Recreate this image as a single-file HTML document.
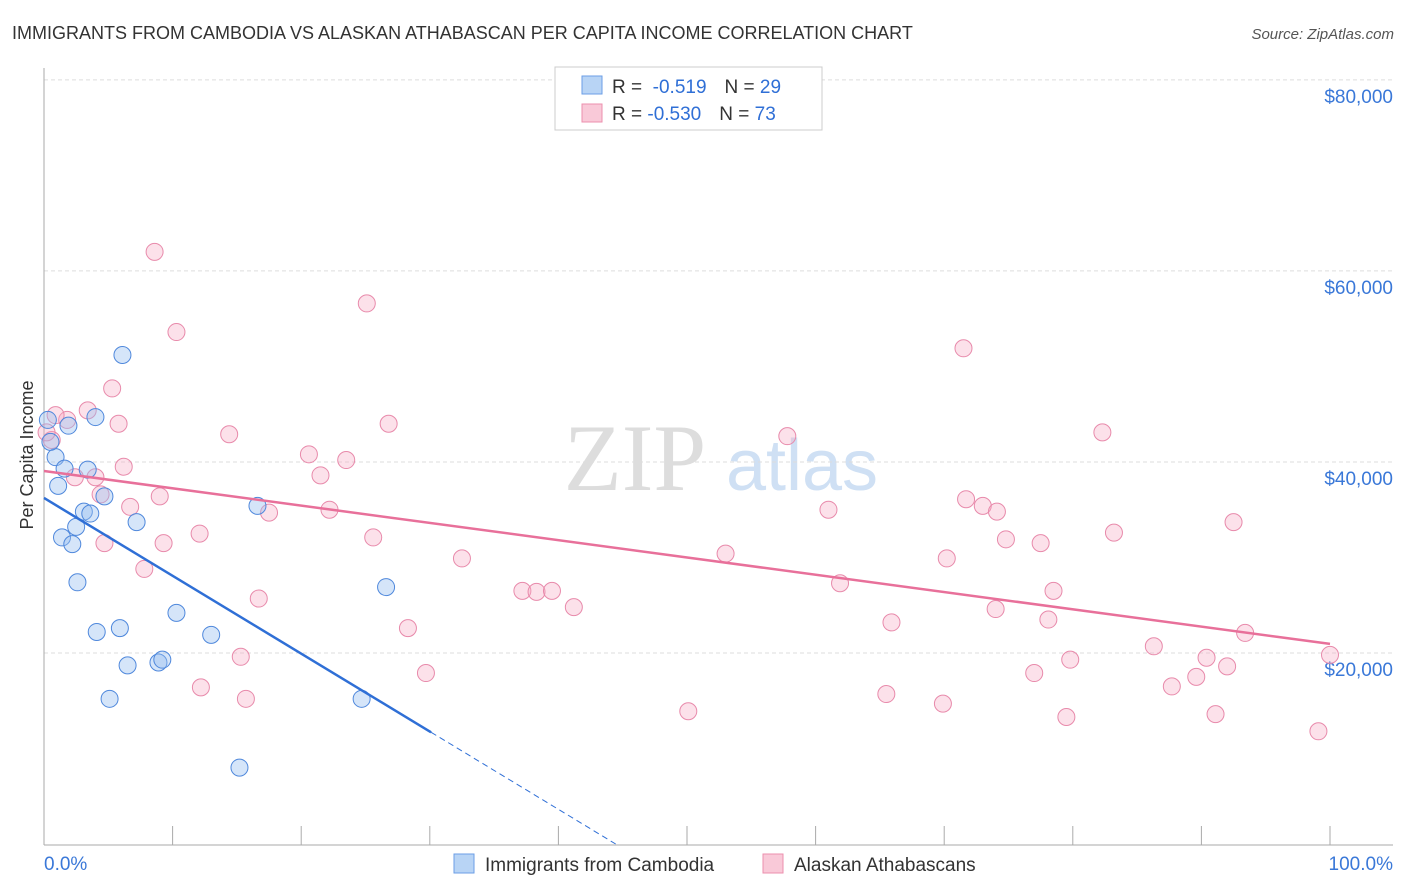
<!DOCTYPE html>
<html><head><meta charset="utf-8"><style>
body{margin:0;background:#fff;font-family:"Liberation Sans",sans-serif;}
svg{display:block}
</style></head><body>
<svg id="c" width="1406" height="892" xmlns="http://www.w3.org/2000/svg">
<text x="12" y="39" font-size="18" fill="#333">IMMIGRANTS FROM CAMBODIA VS ALASKAN ATHABASCAN PER CAPITA INCOME CORRELATION CHART</text>
<text x="1394" y="39" font-size="15" fill="#555" font-style="italic" text-anchor="end">Source: ZipAtlas.com</text>
<text x="33" y="455" font-size="18" fill="#333" text-anchor="middle" transform="rotate(-90 33 455)">Per Capita Income</text>
<g><text x="635" y="490" font-size="95" fill="#ddd" font-family="Liberation Serif,serif" text-anchor="middle">ZIP</text><text x="802" y="490" font-size="72" fill="#cfe0f4" text-anchor="middle">atlas</text></g>
<g id="grid"></g><g id="axes"></g><g id="pts"></g><g id="lines"></g>
<g>
<rect x="555" y="67" width="267" height="63" fill="#fff" stroke="#ccc"/>
<rect x="582" y="76" width="20" height="18" fill="#b8d4f5" stroke="#6b9ee6"/>
<rect x="582" y="104" width="20" height="18" fill="#f9c9d8" stroke="#ec8fae"/>
<text x="612" y="93" font-size="19" fill="#333">R = <tspan fill="#2f6fd6">&#160;-0.519</tspan><tspan dx="18">N = </tspan><tspan fill="#2f6fd6">29</tspan></text>
<text x="612" y="120" font-size="19" fill="#333">R = <tspan fill="#2f6fd6">-0.530</tspan><tspan dx="18">N = </tspan><tspan fill="#2f6fd6">73</tspan></text>
</g>
<g>
<rect x="454" y="854" width="20" height="19" fill="#b8d4f5" stroke="#6b9ee6"/>
<text x="485" y="871" font-size="19" fill="#333">Immigrants from Cambodia</text>
<rect x="763" y="854" width="20" height="19" fill="#f9c9d8" stroke="#ec8fae"/>
<text x="794" y="871" font-size="19" fill="#333">Alaskan Athabascans</text>
</g>
</svg>
<script>
const yTicks=[20000,40000,60000,80000];
const yTickLabels=["$20,000","$40,000","$60,000","$80,000"];
const xTickLabels=["0.0%","100.0%"];
const blueX=[0.3,0.9,1.9,4.0,6.1,1.1,1.6,3.4,4.7,3.1,3.6,7.2,1.4,2.5,2.2,2.6,16.6,10.3,4.1,5.9,13.0,6.5,8.9,9.2,5.1,24.7,26.6,15.2,0.5];
const blueY=[44400,40500,43800,44700,51200,37500,39300,39200,36400,34800,34600,33700,32100,33200,31400,27400,35400,24200,22200,22600,21900,18700,19000,19300,15200,15200,26900,8000,42100];
const pinkX=[8.6,25.1,10.3,71.5,5.3,3.4,1.8,5.8,26.8,14.4,82.3,57.8,0.6,0.2,20.6,23.5,6.2,2.4,4.0,21.5,4.4,9.0,71.7,73.0,74.1,17.5,6.7,22.2,61.0,92.5,12.1,25.6,83.2,74.8,77.5,4.7,9.3,53.0,32.5,70.2,7.8,61.9,78.5,37.2,38.3,39.5,16.7,41.2,74.0,78.1,65.9,28.3,93.4,86.3,15.3,79.8,90.4,100,92.0,29.7,77.0,89.6,12.2,87.7,65.5,15.7,69.9,50.1,91.1,79.5,99.1,0.9];
const pinkY=[62000,56600,53600,51900,47700,45400,44400,44000,44000,42900,43100,42700,42300,43100,40800,40200,39500,38400,38400,38600,36600,36400,36100,35400,34800,34700,35300,35000,35000,33700,32500,32100,32600,31900,31500,31500,31500,30400,29900,29900,28800,27300,26500,26500,26400,26500,25700,24800,24600,23500,23200,22600,22100,20700,19600,19300,19500,19800,18600,17900,17900,17500,16400,16500,15700,15200,14700,13900,13600,13300,11800,44900];
const blueTrend=[36230,-815]; // intercept, slope per pct
const pinkTrend=[39050,-181];
const blueSolidEnd=[30.1];
const NS="http://www.w3.org/2000/svg";
const X=p=>44+p*12.86, Y=v=>844-v/104.7;
function mk(t,a,p){const e=document.createElementNS(NS,t);for(const k in a)e.setAttribute(k,a[k]);document.getElementById(p).appendChild(e);return e;}
yTicks.forEach((v,i)=>{
 const l=mk('line',{x1:44,x2:1393,y1:Y(v),y2:Y(v),stroke:'#ddd','stroke-dasharray':'4,3'},'grid');
 
 
 const t=mk('text',{x:1393,y:Y(v)+23,'font-size':19,fill:'#3a78d8','text-anchor':'end'},'grid');t.textContent=yTickLabels[i];
 
 
});
let a=mk('line',{x1:44,x2:44,y1:68,y2:845,stroke:'#aaa'},'axes');


a=mk('line',{x1:44,x2:1393,y1:845,y2:845,stroke:'#aaa'},'axes');


for(let i=0;i<=10;i++){const t=mk('line',{x1:X(i*10),x2:X(i*10),y1:826,y2:845,stroke:'#aaa'},'axes');
 
 }
[[0,'start',44],[1,'end',1393]].forEach(([i,an,x])=>{const t=mk('text',{x:x,y:870,'font-size':19,fill:'#3a78d8','text-anchor':an},'axes');t.textContent=xTickLabels[i];
 
 });
pinkX.forEach((x,i)=>{const c=mk('circle',{cx:X(x),cy:Y(pinkY[i]),r:8.5,fill:'rgba(246,170,196,0.35)',stroke:'#e88aab','stroke-width':1},'pts');
 
 });
blueX.forEach((x,i)=>{const c=mk('circle',{cx:X(x),cy:Y(blueY[i]),r:8.5,fill:'rgba(150,190,240,0.4)',stroke:'#4f88dc','stroke-width':1},'pts');
 
 });
const bv=p=>blueTrend[0]+blueTrend[1]*p, pv=p=>pinkTrend[0]+pinkTrend[1]*p;
let l=mk('line',{x1:X(0),y1:Y(pv(0)),x2:X(100),y2:Y(pv(100)),stroke:'#e8709a','stroke-width':2.5},'lines');


l=mk('line',{x1:X(0),y1:Y(bv(0)),x2:X(blueSolidEnd[0]),y2:Y(bv(blueSolidEnd[0])),stroke:'#2f6fd6','stroke-width':2.5},'lines');


const zp=-blueTrend[0]/blueTrend[1];
l=mk('line',{x1:X(blueSolidEnd[0]),y1:Y(bv(blueSolidEnd[0])),x2:X(zp),y2:Y(0),stroke:'#2f6fd6','stroke-width':1,'stroke-dasharray':'6,4'},'lines');


</script>
</body></html>
